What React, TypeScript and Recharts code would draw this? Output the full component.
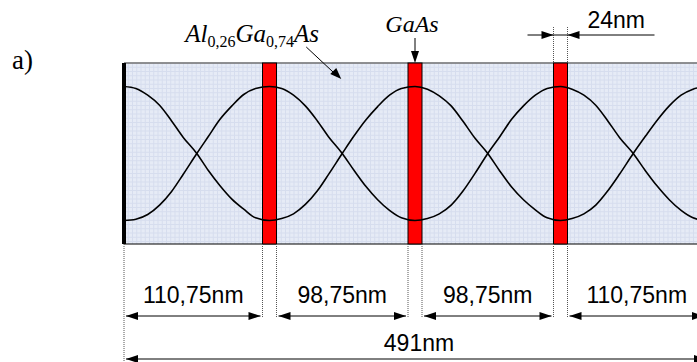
import React from "react";
import {
  ComposedChart,
  Line,
  XAxis,
  YAxis,
  CartesianGrid,
  ReferenceArea,
} from "recharts";

// layer stack, left to right (nm)
const LAYER_KIND = ["barrier", "well", "barrier", "well", "barrier", "well", "barrier"];
const LAYER_NM = [110.75, 24, 98.75, 24, 98.75, 24, 110.75];
const BARRIER_LABELS = ["110,75nm", "98,75nm", "98,75nm", "110,75nm"];
const TOTAL_LABEL = "491nm";
const WELL_LABEL = "24nm";

// envelope curves
const X_NM = [
  0, 10, 20, 30, 40, 50, 61.4, 71, 81, 91, 101, 111,
  122.75, 133, 143, 153, 163, 173, 184.1, 194, 204, 214, 224, 234,
  245.5, 256, 266, 276, 286, 296, 306.9, 317, 327, 337, 347, 357,
  368.25, 378, 388, 398, 408, 418, 429.6, 440, 450, 460, 470, 480, 491,
];
const PSI_A = [
  1.0, 0.97, 0.87, 0.72, 0.49, 0.24, 0.0, -0.25, -0.48, -0.68, -0.83, -0.96,
  -1.0, -0.97, -0.9, -0.76, -0.56, -0.3, 0.0, 0.26, 0.5, 0.7, 0.87, 0.97,
  1.0, 0.96, 0.86, 0.71, 0.48, 0.23, 0.0, -0.26, -0.5, -0.69, -0.84, -0.96,
  -1.0, -0.97, -0.9, -0.77, -0.56, -0.31, 0.0, 0.26, 0.5, 0.71, 0.87, 0.96, 1.0,
];
const PSI_B = [
  -1.0, -0.98, -0.91, -0.77, -0.57, -0.31, 0.0, 0.25, 0.51, 0.71, 0.88, 0.97,
  1.0, 0.97, 0.87, 0.71, 0.49, 0.24, 0.0, -0.25, -0.49, -0.69, -0.85, -0.96,
  -1.0, -0.97, -0.9, -0.77, -0.56, -0.3, 0.0, 0.25, 0.51, 0.71, 0.87, 0.97,
  1.0, 0.96, 0.87, 0.72, 0.49, 0.24, 0.0, -0.26, -0.49, -0.69, -0.85, -0.96, -1.0,
];

const data = X_NM.map((x, i) => ({ x, a: PSI_A[i], b: PSI_B[i] }));

const bounds = LAYER_NM.reduce<number[]>((acc, w) => [...acc, acc[acc.length - 1] + w], [0]);
const TOTAL_NM = bounds[bounds.length - 1];

const W = 720;
const H = 362;
const MARGIN = { top: 63, right: 14, bottom: 118, left: 124 };
const WELL_HALF = 7; // drawn half width of a well (the sketch is not to scale)
const SANS = "Liberation Sans, Arial, sans-serif";
const SERIF = "Liberation Serif, Times New Roman, serif";

function Head({ x, y, dir }: { x: number; y: number; dir: number }) {
  return (
    <polygon
      points={`${x},${y} ${x - dir * 12},${y - 4} ${x - dir * 12},${y + 4}`}
      fill="#000"
    />
  );
}

function DimArrow({ x1, x2, y }: { x1: number; x2: number; y: number }) {
  return (
    <g>
      <line x1={x1} x2={x2} y1={y} y2={y} stroke="#000" strokeWidth={1} />
      <Head x={x1} y={y} dir={-1} />
      <Head x={x2} y={y} dir={1} />
    </g>
  );
}

const extStyle = { stroke: "#555", strokeWidth: 1, strokeDasharray: "1 1" };

function boxShape(p: any) {
  const { x, y, width, height } = p;
  const bot = y + height;
  const mid = x + width / 2;
  return (
    <g>
      <line x1={x} x2={x + width} y1={y} y2={y} stroke="#707070" strokeWidth={1.5} />
      <line x1={x} x2={x + width} y1={bot} y2={bot} stroke="#000" strokeWidth={1} />
      <line x1={x} x2={x} y1={bot} y2={bot + 118} {...extStyle} />
      <DimArrow x1={x + 2} x2={x + width} y={bot + 115} />
      <text x={mid + 4} y={bot + 107} textAnchor="middle" fontFamily={SANS} fontSize={23}>
        {TOTAL_LABEL}
      </text>
      <line x1={x} x2={x} y1={y} y2={bot} stroke="#000" strokeWidth={4} />
    </g>
  );
}

function makeWellShape(layer: number) {
  const wellNo = LAYER_KIND.slice(0, layer).filter((k) => k === "well").length;
  return (p: any) => {
    const { x, y, width, height } = p;
    const cx = x + width / 2;
    const l = cx - WELL_HALF;
    const r = cx + WELL_HALF;
    const bot = y + height;
    return (
      <g>
        <rect x={l} y={y} width={2 * WELL_HALF} height={height} fill="#ff0000" stroke="#000" strokeWidth={1} />
        <line x1={l} x2={l} y1={bot} y2={bot + 74} {...extStyle} />
        <line x1={r} x2={r} y1={bot} y2={bot + 74} {...extStyle} />
        {wellNo === 1 && (
          <g>
            <text x={cx - 3} y={y - 31} textAnchor="middle" fontFamily={SERIF} fontStyle="italic" fontSize={24}>
              GaAs
            </text>
            <line x1={cx} x2={cx} y1={y - 25} y2={y - 6} stroke="#000" strokeWidth={1} />
            <polygon points={`${cx},${y} ${cx - 4},${y - 12} ${cx + 4},${y - 12}`} fill="#000" />
          </g>
        )}
        {wellNo === 2 && (
          <g>
            <line x1={l} x2={l} y1={y - 36} y2={y} {...extStyle} />
            <line x1={r} x2={r} y1={y - 36} y2={y} {...extStyle} />
            <line x1={cx - 33} x2={cx + 94} y1={y - 28} y2={y - 28} stroke="#000" strokeWidth={1} />
            <Head x={l} y={y - 28} dir={1} />
            <Head x={r} y={y - 28} dir={-1} />
            <text x={cx + 27} y={y - 35} fontFamily={SANS} fontSize={23}>
              {WELL_LABEL}
            </text>
          </g>
        )}
      </g>
    );
  };
}

function makeBarrierShape(layer: number) {
  const barrierNo = LAYER_KIND.slice(0, layer).filter((k) => k === "barrier").length;
  return (p: any) => {
    const { x, y, width, height } = p;
    const k = width / LAYER_NM[layer];
    const prevWell = LAYER_KIND[layer - 1] === "well";
    const nextWell = LAYER_KIND[layer + 1] === "well";
    const left = prevWell ? x - (LAYER_NM[layer - 1] / 2) * k + WELL_HALF : x;
    const right = nextWell ? x + width + (LAYER_NM[layer + 1] / 2) * k - WELL_HALF : x + width;
    const mid = (left + right) / 2;
    const bot = y + height;
    return (
      <g>
        <DimArrow x1={left + 2} x2={right - 2} y={bot + 72} />
        <text x={mid} y={bot + 59} textAnchor="middle" fontFamily={SANS} fontSize={23}>
          {BARRIER_LABELS[barrierNo]}
        </text>
        {barrierNo === 1 && (
          <g>
            <text x={mid - 157} y={y - 21} fontFamily={SERIF} fontStyle="italic" fontSize={25}>
              Al<tspan fontStyle="normal" fontSize={16} dy={5}>0,26</tspan>
              <tspan dy={-5}>Ga</tspan>
              <tspan fontStyle="normal" fontSize={16} dy={5}>0,74</tspan>
              <tspan dy={-5}>As</tspan>
            </text>
            <line x1={mid - 36} y1={y - 16} x2={mid - 6} y2={y + 12} stroke="#000" strokeWidth={1} />
            <polygon
              points={`${mid - 1},${y + 16} ${mid - 12},${y + 11} ${mid - 6},${y + 5}`}
              fill="#000"
            />
          </g>
        )}
      </g>
    );
  };
}

function gridSteps(start: number, size: number, step: number) {
  const out: number[] = [];
  for (let v = start; v <= start + size; v += step) out.push(v);
  return out;
}

export default function App() {
  return (
    <div style={{ position: "absolute", left: 0, top: 0, width: 697, height: 362, overflow: "hidden", background: "#fff" }}>
      <div
        style={{
          position: "absolute",
          left: 12,
          top: 45,
          fontFamily: SERIF,
          fontSize: 27,
          lineHeight: "30px",
        }}
      >
        a)
      </div>
      <ComposedChart width={W} height={H} data={data} margin={MARGIN} style={{ position: "absolute", left: 0, top: 0 }}>
        <CartesianGrid
          fill="#e6ebf6"
          stroke="#d6ddee"
          strokeWidth={1}
          verticalCoordinatesGenerator={({ offset }: any) => gridSteps(offset.left, offset.width, 4.25)}
          horizontalCoordinatesGenerator={({ offset }: any) => gridSteps(offset.top, offset.height, 4.25)}
        />
        <XAxis type="number" dataKey="x" domain={[0, TOTAL_NM]} hide allowDataOverflow />
        <YAxis type="number" domain={[-1.35, 1.35]} hide allowDataOverflow />
        <ReferenceArea x1={0} x2={TOTAL_NM} y1={-1.35} y2={1.35} shape={boxShape} />
        {LAYER_KIND.map((kind, i) => (
          <ReferenceArea
            key={i}
            x1={bounds[i]}
            x2={bounds[i + 1]}
            y1={-1.35}
            y2={1.35}
            shape={kind === "well" ? makeWellShape(i) : makeBarrierShape(i)}
          />
        ))}
        <Line dataKey="a" type="monotone" stroke="#000" strokeWidth={1.6} dot={false} activeDot={false} isAnimationActive={false} />
        <Line dataKey="b" type="monotone" stroke="#000" strokeWidth={1.6} dot={false} activeDot={false} isAnimationActive={false} />
      </ComposedChart>
    </div>
  );
}
